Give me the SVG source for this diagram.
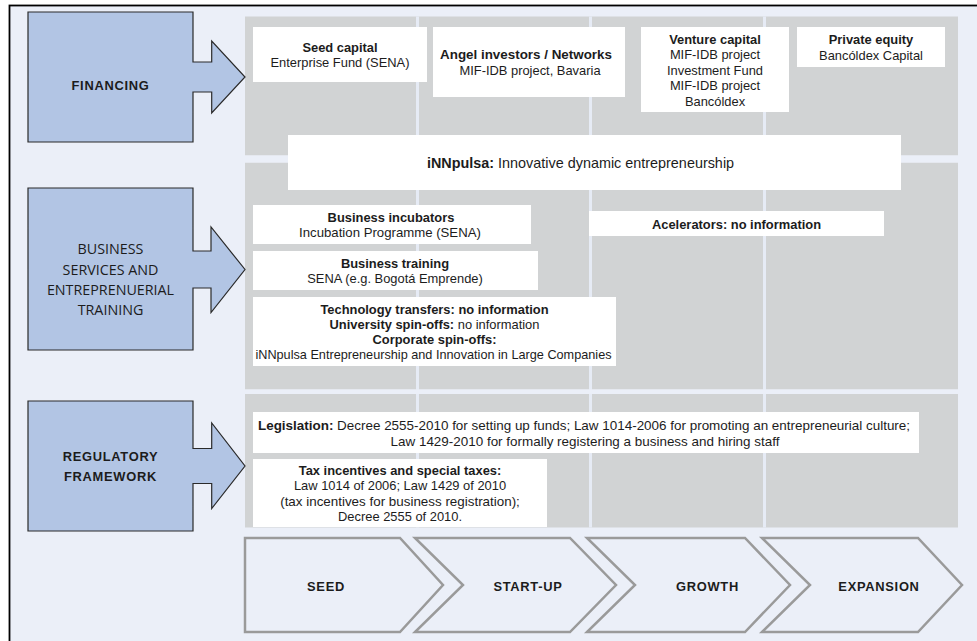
<svg xmlns="http://www.w3.org/2000/svg" width="977" height="641" viewBox="0 0 977 641">
<style>
.t{font-family:'Liberation Sans',Arial,sans-serif;font-size:12.9px;fill:#1c1c1c;text-anchor:middle}
.b{font-weight:bold}
.h{font-weight:bold;letter-spacing:0.7px}
.o{font-family:'Open Sans','Noto Sans',sans-serif;font-size:14.3px;fill:#1c1c1c;text-anchor:middle}
.panel{fill:#d1d3d4}
.sep{stroke:#e6ebf5;stroke-width:3}
.box{fill:#ffffff}
.arrow{fill:#b2c5e4;stroke:#2a2a2a;stroke-width:1.2}
.chev{fill:#ebeff8;stroke:#9a9a9a;stroke-width:2.5}
</style>
<rect x="0" y="0" width="977" height="641" fill="#ffffff"/>
<rect x="9.5" y="5.5" width="980" height="650" fill="#ebeff8" stroke="#000" stroke-width="1.8"/>

<g id="panels">
<rect class="panel" x="245" y="16.5" width="713" height="139"/>
<rect class="panel" x="245" y="162.5" width="713" height="227"/>
<rect class="panel" x="245" y="394" width="713" height="133.5"/>
<line class="sep" x1="417.5" y1="16.5" x2="417.5" y2="527.5"/>
<line class="sep" x1="590.5" y1="16.5" x2="590.5" y2="527.5"/>
<line class="sep" x1="764.5" y1="16.5" x2="764.5" y2="527.5"/>
<rect fill="#ebeff8" x="245" y="155.5" width="713" height="7"/>
<rect fill="#ebeff8" x="245" y="389.5" width="713" height="4.5"/>
</g>

<g id="connectors">
<polygon class="arrow" points="28,12 193,12 193,62 211.7,62 211.7,41 245,77 211.7,113 211.7,92 193,92 193,142 28,142"/>
<polygon class="arrow" points="28,188 193,188 193,251 211,251 211,227 245,269.5 211,312.5 211,288 193,288 193,350 28,350"/>
<polygon class="arrow" points="28,401 193,401 193,448.5 211.7,448.5 211.7,423 245,466 211.7,508.5 211.7,483.5 193,483.5 193,531 28,531"/>
</g>

<g id="financing">
<text class="t h" x="110.5" y="90">FINANCING</text>
</g>
<g id="business">
<text class="o" x="110.5" y="254">BUSINESS</text>
<text class="o" x="110.5" y="275">SERVICES AND</text>
<text class="o" x="110.5" y="294.5">ENTREPRENUERIAL</text>
<text class="o" x="110.5" y="314.5">TRAINING</text>
</g>
<g id="regulatory">
<text class="t h" x="110.5" y="461">REGULATORY</text>
<text class="t h" x="110.5" y="481">FRAMEWORK</text>
</g>

<g id="seed-capital">
<rect class="box" x="253" y="27" width="174" height="55"/>
<text class="t b" x="340" y="51.5">Seed capital</text>
<text class="t" x="340" y="67">Enterprise Fund (SENA)</text>
</g>
<g id="angel">
<rect class="box" x="433" y="27" width="192" height="70"/>
<text class="t b" x="526" y="59" style="font-size:13.4px">Angel investors / Networks</text>
<text class="t" x="530" y="74.5">MIF-IDB project, Bavaria</text>
</g>
<g id="venture">
<rect class="box" x="641" y="27" width="148" height="85"/>
<text class="t b" x="715" y="43.5">Venture capital</text>
<text class="t" x="715" y="59">MIF-IDB project</text>
<text class="t" x="715" y="74.5">Investment Fund</text>
<text class="t" x="715" y="90">MIF-IDB project</text>
<text class="t" x="715" y="105.5">Bancóldex</text>
</g>
<g id="private-equity">
<rect class="box" x="797" y="27" width="148" height="40"/>
<text class="t b" x="871" y="44">Private equity</text>
<text class="t" x="871" y="59.5">Bancóldex Capital</text>
</g>
<g id="innpulsa">
<rect class="box" x="288" y="135" width="613" height="55"/>
<text class="t" x="580.5" y="168" style="font-size:14.4px"><tspan class="b">iNNpulsa:</tspan> Innovative dynamic entrepreneurship</text>
</g>
<g id="incubators">
<rect class="box" x="253" y="205" width="278" height="39"/>
<text class="t b" x="391" y="221.5">Business incubators</text>
<text class="t" x="390" y="237" style="font-size:13.2px">Incubation Programme (SENA)</text>
</g>
<g id="accelerators">
<rect class="box" x="589" y="211" width="295" height="25"/>
<text class="t b" x="736.5" y="228.5">Acelerators: no information</text>
</g>
<g id="training">
<rect class="box" x="253" y="251" width="285" height="39"/>
<text class="t b" x="395" y="267.5">Business training</text>
<text class="t" x="395" y="283">SENA (e.g. Bogotá Emprende)</text>
</g>
<g id="transfers">
<rect class="box" x="253" y="297" width="363" height="69"/>
<text class="t b" x="434.5" y="314">Technology transfers: no information</text>
<text class="t" x="434.5" y="329"><tspan class="b">University spin-offs:</tspan> no information</text>
<text class="t b" x="434.5" y="344">Corporate spin-offs:</text>
<text class="t" x="433.5" y="359" style="font-size:12.7px">iNNpulsa Entrepreneurship and Innovation in Large Companies</text>
</g>
<g id="legislation">
<rect class="box" x="253" y="412" width="666" height="41"/>
<text class="t" x="584" y="430" style="font-size:13.45px"><tspan class="b">Legislation:</tspan> Decree 2555-2010 for setting up funds; Law 1014-2006 for promoting an entrepreneurial culture;</text>
<text class="t" x="585" y="445.5" style="font-size:13.45px">Law 1429-2010 for formally registering a business and hiring staff</text>
</g>
<g id="tax">
<rect class="box" x="253" y="459" width="294" height="68"/>
<text class="t b" x="400" y="474.5">Tax incentives and special taxes:</text>
<text class="t" x="400" y="490">Law 1014 of 2006; Law 1429 of 2010</text>
<text class="t" x="400" y="505.5" style="font-size:13.4px">(tax incentives for business registration);</text>
<text class="t" x="400" y="521">Decree 2555 of 2010.</text>
</g>

<g id="stage-seed">
<polygon class="chev" points="245,538 400,538 443,585 400,632 245,632"/>
<text class="t h" x="326" y="590.5">SEED</text>
</g>
<g id="stage-startup">
<polygon class="chev" points="415,538 570,538 616,585 570,632 415,632 463,585"/>
<text class="t h" x="528" y="590.5">START-UP</text>
</g>
<g id="stage-growth">
<polygon class="chev" points="587,538 745,538 790,585 745,632 587,632 635,585"/>
<text class="t h" x="707.5" y="590.5">GROWTH</text>
</g>
<g id="stage-expansion">
<polygon class="chev" points="762,538 918,538 962,585 918,632 762,632 810,585"/>
<text class="t h" x="879" y="590.5">EXPANSION</text>
</g>
</svg>
